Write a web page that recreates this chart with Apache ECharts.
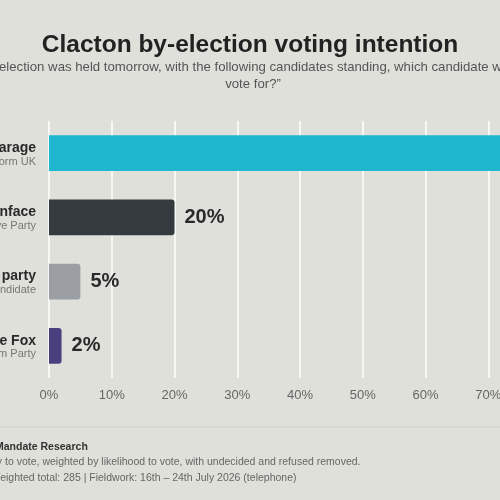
<!DOCTYPE html>
<html lang="en">
<head>
    <meta charset="UTF-8">
    <title>Clacton by-election</title>
    <script type="text/javascript" src="https://cdn.jsdelivr.net/npm/echarts@6/dist/echarts.min.js"></script>
    <style>
        body{
            padding: 0px;
            margin: 0px;
            background-color: #dfe0d9;
            overflow: hidden;
        }
        .content{
            position: relative;
            width: 500px;
            height: 500px;
            overflow: hidden;
        }
        #bar{
            position: absolute;
            left: -150px;
            top: 0px;
        }
    </style>
</head>
<body>
    <div class="content">
        <div id="bar" style="width:800px; height:500px;"></div>
    </div>
    <script>
        // chart data
        var candidates = ['Nigel Farage', 'Matt Manface', 'Any other party', 'Laurence Fox'];
        var parties = ['Reform UK', 'Conservative Party', 'or independent candidate', 'Reclaim Party'];
        var shares = [73, 20, 5, 2];
        var barColors = ['#1fb7cf', '#343a3d', '#9b9ea3', '#4a4080'];
        var tickValues = [0, 10, 20, 30, 40, 50, 60, 70, 80];

        var font = "'Liberation Sans', Arial, sans-serif";
        var chart = echarts.init(document.getElementById('bar'));

        var option = {
            backgroundColor: '#dfe0d9',
            textStyle: { fontFamily: font },
            title: {
                text: 'Clacton by-election voting intention',
                left: 'center',
                top: 28,
                textStyle: { fontFamily: font, fontSize: 24.5, fontWeight: 'bold', color: '#222222' }
            },
            grid: {
                left: 199,
                right: 99,
                top: 121,
                bottom: 122
            },
            xAxis: {
                type: 'value',
                min: tickValues[0],
                max: tickValues[tickValues.length - 1],
                interval: 10,
                axisLine: { show: false },
                axisTick: { show: false },
                axisLabel: {
                    formatter: '{value}%',
                    color: '#666666',
                    fontSize: 13,
                    margin: 11,
                    fontFamily: font
                },
                splitLine: { lineStyle: { color: '#ffffff', width: 1.5 } }
            },
            yAxis: {
                type: 'category',
                inverse: true,
                data: candidates,
                axisLine: { show: false },
                axisTick: { show: false },
                axisLabel: {
                    margin: 13,
                    align: 'right',
                    formatter: function (value, idx) {
                        return '{n|' + value + '}\n{p|' + parties[idx] + '}';
                    },
                    rich: {
                        n: { fontSize: 14, fontWeight: 'bold', color: '#2a2a2a', lineHeight: 17, align: 'right', padding: [6, 0, 0, 0], fontFamily: font },
                        p: { fontSize: 11, color: '#777777', lineHeight: 16, align: 'right', fontFamily: font }
                    }
                }
            },
            series: [{
                type: 'bar',
                data: shares.map(function (v, i) {
                    return { value: v, itemStyle: { color: barColors[i] } };
                }),
                barCategoryGap: '44%',
                itemStyle: { borderRadius: [0, 3, 3, 0] },
                label: {
                    show: true,
                    position: 'right',
                    distance: 10,
                    formatter: '{c}%',
                    fontSize: 20,
                    fontWeight: 'bold',
                    color: '#2a2a2a',
                    fontFamily: font
                }
            }],
            graphic: [
                {
                    type: 'text',
                    x: 403,
                    y: 59,
                    style: {
                        text: '\u201cIf a by-election was held tomorrow, with the following candidates standing, which candidate would you\nvote for?\u201d',
                        textAlign: 'center',
                        textVerticalAlign: 'top',
                        fontSize: 13.2,
                        lineHeight: 17,
                        fill: '#555555',
                        fontFamily: font
                    }
                },
                {
                    type: 'line',
                    shape: { x1: 0, y1: 427, x2: 800, y2: 427 },
                    style: { stroke: '#cfd0c9', lineWidth: 1 }
                },
                {
                    type: 'text',
                    left: 103,
                    top: 442,
                    style: { text: 'Source: Mandate Research', fontSize: 10.5, fontWeight: 'bold', fill: '#333333', fontFamily: font }
                },
                {
                    type: 'text',
                    left: 99,
                    top: 457,
                    style: { text: 'Base: likely to vote, weighted by likelihood to vote, with undecided and refused removed.', fontSize: 10.5, fill: '#666666', fontFamily: font }
                },
                {
                    type: 'text',
                    left: 99,
                    top: 473,
                    style: { text: 'Sample: Weighted total: 285 | Fieldwork: 16th \u2013 24th July 2026 (telephone)', fontSize: 10.5, fill: '#666666', fontFamily: font }
                }
            ]
        };
        chart.setOption(option);
    </script>
</body>
</html>
